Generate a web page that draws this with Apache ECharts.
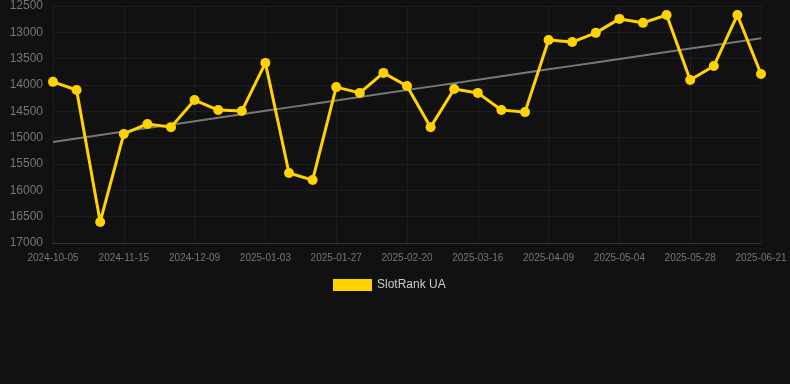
<!DOCTYPE html>
<html>
<head>
<meta charset="utf-8">
<script src="https://cdn.jsdelivr.net/npm/echarts@6/dist/echarts.min.js"></script>
<style>
html,body{margin:0;padding:0;background:#111111;}
#chart{width:790px;height:384px;}
</style>
</head>
<body>
<div id="chart"></div>
<script>
const categories = [
  '2024-10-05','2024-10-19','2024-11-02','2024-11-15','2024-11-23','2024-12-01',
  '2024-12-09','2024-12-17','2024-12-25','2025-01-03','2025-01-11','2025-01-19',
  '2025-01-27','2025-02-04','2025-02-12','2025-02-20','2025-02-28','2025-03-08',
  '2025-03-16','2025-03-24','2025-04-01','2025-04-09','2025-04-17','2025-04-25',
  '2025-05-04','2025-05-12','2025-05-20','2025-05-28','2025-06-05','2025-06-13',
  '2025-06-21'
];
const rankValues = [
  13940,14095,16600,14930,14740,14800,
  14285,14475,14495,13580,15670,15805,
  14040,14150,13770,14020,14800,14075,
  14150,14475,14515,13145,13185,13010,
  12745,12820,12670,13905,13640,12670,
  13790
];
const seriesName = 'SlotRank UA';
const yTicks = [12500,13000,13500,14000,14500,15000,15500,16000,16500,17000];

// linear regression trend
const n = rankValues.length;
const mx = (n - 1) / 2;
const my = rankValues.reduce((a,b)=>a+b,0) / n;
let sxy = 0, sxx = 0;
rankValues.forEach((v,i)=>{ sxy += (i-mx)*(v-my); sxx += (i-mx)*(i-mx); });
const slope = sxy / sxx;
const trend = rankValues.map((v,i)=> my + slope*(i-mx));

const chart = echarts.init(document.getElementById('chart'));
chart.setOption({
  backgroundColor: '#111111',
  animation: false,
  grid: { left: 53, right: 29, top: 6, bottom: 141, containLabel: false, outerBoundsMode: 'none' },
  legend: {
    data: [seriesName],
    top: 274,
    left: 328,
    itemWidth: 39,
    itemHeight: 12,
    icon: 'rect',
    textStyle: { color: '#cccccc', fontSize: 12, fontFamily: 'Liberation Sans, Arial, sans-serif' }
  },
  xAxis: {
    type: 'category',
    data: categories,
    boundaryGap: false,
    axisLine: { show: true, lineStyle: { color: '#333333' } },
    axisTick: { show: false },
    axisLabel: { interval: 2, color: '#777777', fontSize: 10, margin: 10, fontFamily: 'Liberation Sans, Arial, sans-serif' },
    splitLine: { show: true, interval: 2, lineStyle: { color: '#1e1e1e' } }
  },
  yAxis: {
    type: 'value',
    inverse: true,
    min: yTicks[0],
    max: yTicks[yTicks.length-1],
    interval: 500,
    axisLine: { show: false },
    axisTick: { show: false },
    axisLabel: { color: '#777777', fontSize: 12, margin: 10, fontFamily: 'Liberation Sans, Arial, sans-serif',
      formatter: v => String(v) },
    splitLine: { show: true, lineStyle: { color: '#1e1e1e' } }
  },
  series: [
    {
      name: 'trend',
      type: 'line',
      data: trend,
      symbol: 'none',
      lineStyle: { color: '#777777', width: 2 },
      silent: true,
      z: 1
    },
    {
      name: seriesName,
      type: 'line',
      data: rankValues,
      symbol: 'circle',
      symbolSize: 10,
      itemStyle: { color: '#ffd200' },
      lineStyle: { color: '#ffd200', width: 3 },
      z: 2
    }
  ]
});
</script>
</body>
</html>
